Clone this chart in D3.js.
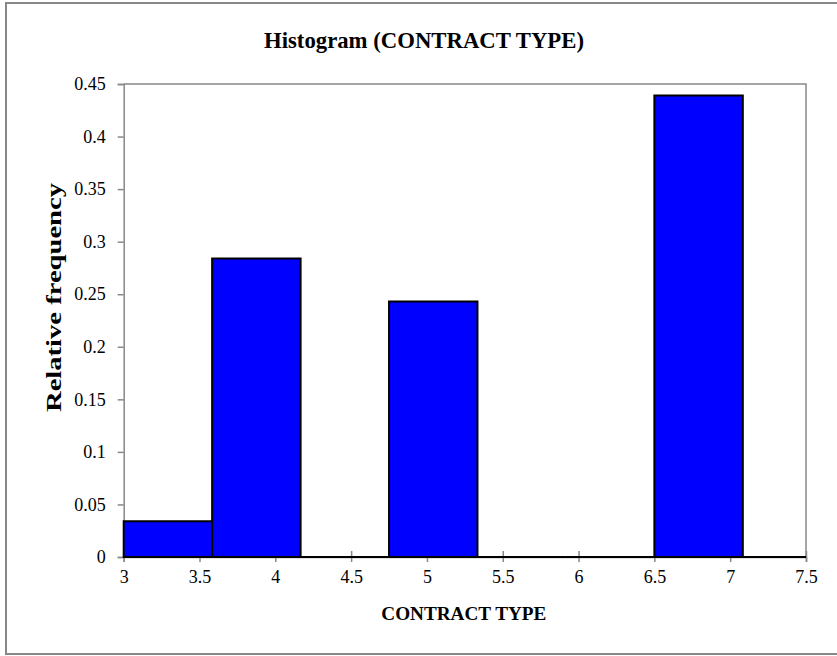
<!DOCTYPE html>
<html>
<head>
<meta charset="utf-8">
<script src="https://cdn.jsdelivr.net/npm/d3@7/dist/d3.min.js"></script>
<style>
  html, body { margin: 0; padding: 0; background: #fff; }
  svg { display: block; }
  text { font-family: "Liberation Serif", "DejaVu Serif", serif; fill: #000; }
  .tick text { font-size: 18px; }
</style>
</head>
<body>
<svg id="chart" width="837" height="656"></svg>
<script>
// Histogram of CONTRACT TYPE: bin edges and relative frequency per bin
const binEdges = [3, 3.5833, 4.1667, 4.75, 5.3333, 5.9167, 6.5, 7.0833, 7.6667];
const relFreq  = [0.034, 0.284, 0, 0.243, 0, 0, 0.439, 0];
const xTicks   = [3, 3.5, 4, 4.5, 5, 5.5, 6, 6.5, 7, 7.5];
const yTicks   = [0, 0.05, 0.1, 0.15, 0.2, 0.25, 0.3, 0.35, 0.4, 0.45];

const titleText = "Histogram (CONTRACT TYPE)";
const xLabel = "CONTRACT TYPE";
const yLabel = "Relative frequency";

const svg = d3.select("#chart");
const W = 837, H = 656;
const plot = { left: 123.7, right: 806, top: 84, bottom: 557 };
const axisGray = "#888888";

// chart frame
svg.append("rect")
  .attr("x", 6).attr("y", 3)
  .attr("width", W + 10).attr("height", 651)
  .attr("fill", "none").attr("stroke", axisGray).attr("stroke-width", 2);

const x = d3.scaleLinear().domain([3, 7.5]).range([plot.left, plot.right]).clamp(true);
const y = d3.scaleLinear().domain([0, 0.45]).range([plot.bottom, plot.top]);

// plot-area border (top and right)
svg.append("path")
  .attr("d", `M${plot.left},${plot.top}H${plot.right}V${plot.bottom}`)
  .attr("fill", "none").attr("stroke", axisGray).attr("stroke-width", 1.5);

// x axis (cross ticks, drawn beneath the bars)
const xAxis = svg.append("g")
  .attr("transform", `translate(0,${plot.bottom})`)
  .call(d3.axisBottom(x).tickValues(xTicks).tickSize(5).tickPadding(8)
        .tickFormat(d => String(d)));
xAxis.select(".domain").attr("stroke", axisGray).attr("stroke-width", 1.5);
xAxis.selectAll(".tick line").attr("y1", -6).attr("stroke", axisGray).attr("stroke-width", 1.5);
xAxis.selectAll(".tick text").attr("fill", "#000");

// y axis
const yAxis = svg.append("g")
  .attr("transform", `translate(${plot.left},0)`)
  .call(d3.axisLeft(y).tickValues(yTicks).tickSize(6).tickPadding(12)
        .tickFormat(d => String(+d.toFixed(2))));
yAxis.select(".domain").attr("stroke", axisGray).attr("stroke-width", 1.5);
yAxis.selectAll(".tick line").attr("stroke", axisGray).attr("stroke-width", 1.5);
yAxis.selectAll(".tick text").attr("fill", "#000");

// bars (paths, so zero-height bins still show their outline on the baseline)
const bins = relFreq.map((v, i) => ({ x0: binEdges[i], x1: binEdges[i + 1], v }));
svg.append("g").selectAll("path")
  .data(bins)
  .join("path")
  .attr("d", d => `M${x(d.x0)},${y(0)}V${y(d.v)}H${x(d.x1)}V${y(0)}Z`)
  .attr("fill", "#0000ff")
  .attr("stroke", "#000")
  .attr("stroke-width", 2)
  .attr("stroke-linejoin", "miter");

// title and axis labels
svg.append("text")
  .attr("x", 424).attr("y", 48)
  .attr("text-anchor", "middle")
  .attr("font-size", 23).attr("font-weight", "bold")
  .attr("textLength", 320).attr("lengthAdjust", "spacingAndGlyphs")
  .text(titleText);

svg.append("text")
  .attr("x", (plot.left + plot.right) / 2 - 1).attr("y", 620)
  .attr("text-anchor", "middle")
  .attr("font-size", 19).attr("font-weight", "bold")
  .attr("textLength", 165).attr("lengthAdjust", "spacingAndGlyphs")
  .text(xLabel);

svg.append("text")
  .attr("transform", `translate(61,297.5) rotate(-90)`)
  .attr("text-anchor", "middle")
  .attr("font-size", 20).attr("font-weight", "bold")
  .attr("textLength", 229).attr("lengthAdjust", "spacingAndGlyphs")
  .text(yLabel);
</script>
</body>
</html>
